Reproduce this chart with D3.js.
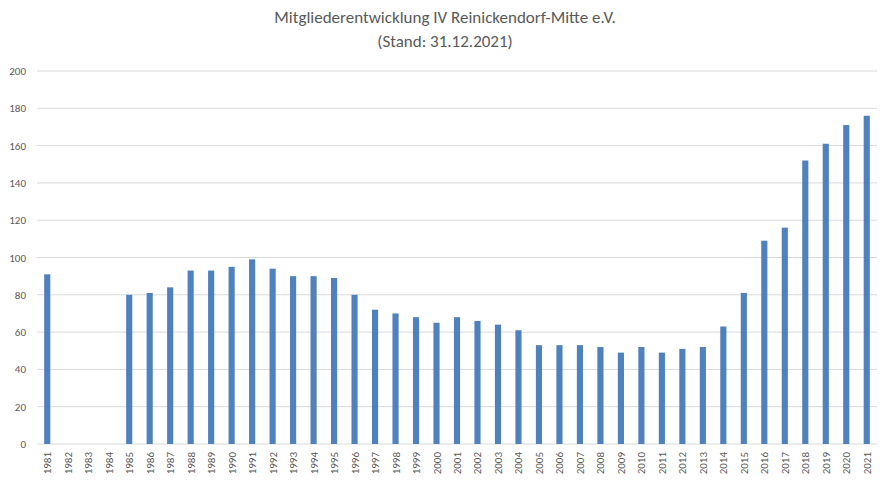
<!DOCTYPE html>
<html><head><meta charset="utf-8">
<script src="https://cdn.jsdelivr.net/npm/d3@7"></script>
<style>body{margin:0;background:#fff;font-family:Calibri,Carlito,"Open Sans",sans-serif}</style>
</head><body><svg id="c" width="890" height="481"></svg>
<script>
const years = d3.range(1981, 2022).map(String);
const members = [91,null,null,null,80,81,84,93,93,95,99,94,90,90,89,80,72,70,68,65,68,66,64,61,53,53,53,52,49,52,49,51,52,63,81,109,116,152,161,171,176];
const yTicks = [0,20,40,60,80,100,120,140,160,180,200];
const titleLines = ["Mitgliederentwicklung IV Reinickendorf-Mitte e.V.", "(Stand: 31.12.2021)"];

const svg = d3.select('#c');
const x = d3.scaleBand().domain(years).range([37, 877]).paddingInner(0.7).paddingOuter(0.35);
const y = d3.scaleLinear().domain([0, 200]).range([444, 71]);

svg.append('g').selectAll('line').data(yTicks).join('line')
  .attr('x1', 37).attr('x2', 877).attr('y1', d => y(d)).attr('y2', d => y(d))
  .attr('stroke', '#d9d9d9').attr('stroke-width', 1);

svg.append('g').selectAll('text').data(yTicks).join('text')
  .attr('x', 26).attr('y', d => y(d) + 4).attr('text-anchor', 'end')
  .attr('font-size', 11).attr('fill', '#595959').text(d => d);

svg.append('g').selectAll('rect').data(years.map((yr, i) => ({yr, v: members[i]})).filter(d => d.v != null))
  .join('rect')
  .attr('x', d => x(d.yr)).attr('width', x.bandwidth())
  .attr('y', d => y(d.v)).attr('height', d => y(0) - y(d.v))
  .attr('fill', '#4f81bd');

svg.append('g').selectAll('text').data(years).join('text')
  .attr('transform', d => `translate(${x(d) + x.bandwidth() / 2 + 4},452) rotate(-90)`)
  .attr('text-anchor', 'end').attr('font-size', 11).attr('fill', '#595959').text(d => d);

svg.append('g').selectAll('text').data(titleLines).join('text')
  .attr('x', 445).attr('y', (d, i) => 23 + i * 24).attr('text-anchor', 'middle')
  .attr('font-size', 17).attr('fill', '#595959').text(d => d);
</script></body></html>
